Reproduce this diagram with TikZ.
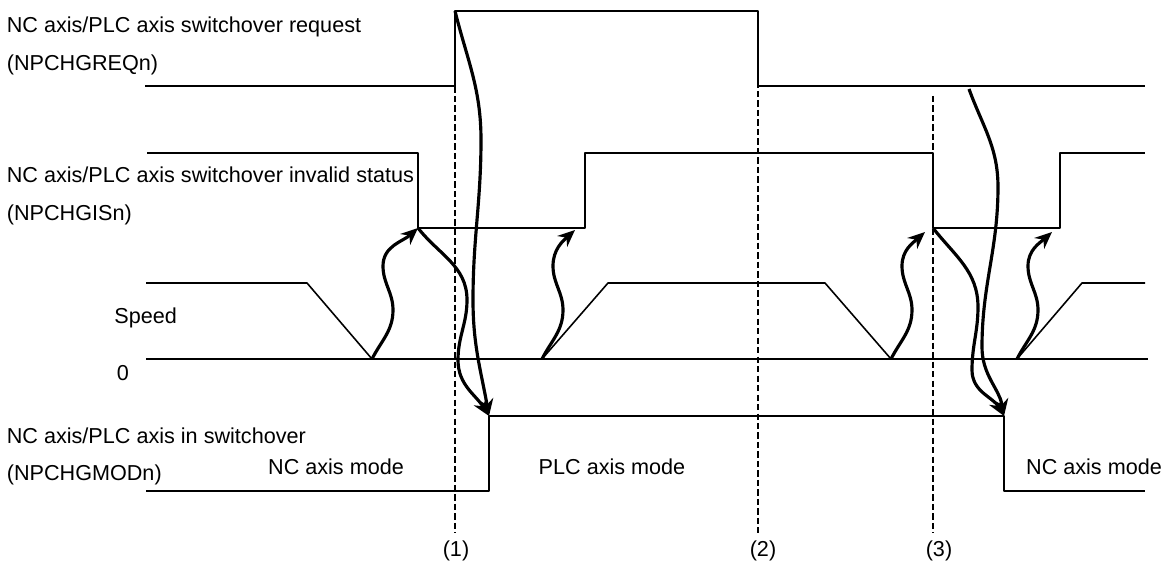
\documentclass[tikz,border=0pt]{standalone}
\usepackage{fontspec}
\setmainfont{Liberation Sans}
\usetikzlibrary{arrows.meta}
\begin{document}
\begin{tikzpicture}[x=0.02cm,y=0.02cm,line join=round,font=\fontsize{12.3}{14}\selectfont,
	sig/.style={line width=0.9pt},
	cause/.style={line width=1.8pt,-{Stealth[length=3.4mm,width=2.9mm]}},
	guide/.style={line width=1.3pt,dash pattern=on 3.6pt off 1.8pt},
	lbl/.style={anchor=base west,inner sep=0pt},
	tick/.style={anchor=base,inner sep=4.7pt}]
	\useasboundingbox (0,0) rectangle (1161,564);
	% signal names
	\node [lbl] (reqname) at (6.5,531) {NC axis/PLC axis switchover request};
	\node [lbl] (reqsig) at (6.5,493) {(NPCHGREQn)};
	\node [lbl] (gisname) at (6.5,381) {NC axis/PLC axis switchover invalid status};
	\node [lbl] (gissig) at (6.5,343) {(NPCHGISn)};
	\node [lbl] (speedname) at (114,240) {Speed};
	\node [anchor=base,inner sep=0pt] (zeroname) at (123,183) {0};
	\node [lbl] (modname) at (6.5,120) {NC axis/PLC axis in switchover};
	\node [lbl] (modsig) at (6.5,83) {(NPCHGMODn)};
	\node [anchor=base,inner sep=0pt] (ncmodeA) at (336,89) {NC axis mode};
	\node [anchor=base,inner sep=0pt] (plcmode) at (612,89) {PLC axis mode};
	\node [anchor=base,inner sep=0pt] (ncmodeB) at (1094,89) {NC axis mode};
	% waveforms
	\draw [sig] (145,478) -- (455,478) -- (455,553) coordinate (reqA) -- (758,553) -- (758,478) -- (1145,478);
	\draw [sig] (147,411) -- (418,411) -- (418,336) coordinate (gisA) -- (585,336) -- (585,411)
		-- (933,411) -- (933,336) coordinate (gisD) -- (1060,336) -- (1060,411) -- (1145,411);
	\draw [sig] (146,205) -- (1148,205);
	\draw [sig] (146,281) -- (307,281) -- (372,205) coordinate (stopA)
		(542,205) coordinate (startA) -- (608,281) -- (825,281) -- (891,205) coordinate (stopB)
		(1017,205) coordinate (startB) -- (1082,281) -- (1145,281);
	\draw [sig] (146,73) -- (489,73) -- (489,148) coordinate (modA) -- (1004,148) coordinate (modB) -- (1004,73) -- (1145,73);
	\coordinate (gisB) at (575,334);
	\coordinate (gisC) at (925,332);
	\coordinate (gisE) at (1052,332);
	\coordinate (reqB) at (969,475);
	% timing points
	\node [tick] (t1) at (456,7) {(1)};
	\node [tick] (t2) at (763,7) {(2)};
	\node [tick] (t3) at (939,7) {(3)};
	\coordinate (p1) at (455,487);
	\coordinate (p2) at (758,511);
	\coordinate (p3) at (933,468);
	\draw [guide] (p1) -- (p1 |- t1.north);
	\draw [guide] (p2) -- (p2 |- t2.north);
	\draw [guide] (p3) -- (p3 |- t3.north);
	% signal dependencies
	\foreach \s/\g in {stopA/gisA,startA/gisB,stopB/gisC,startB/gisE}
		\draw [cause] (\s) to[out=63,in=-90] ++(21,49) to[out=90,in=-90] ++(-10,44) to[out=90,in=-138] (\g);
	\draw [cause] (gisA) to[out=-52,in=90] (467,264) to[out=-90,in=90] (458,204) to[out=-90,in=122] (modA);
	\draw [cause] (reqA) to[out=-76,in=90] (481,424) to[out=-90,in=90] (473,264) to[out=-90,in=100] (modA);
	\draw [cause] (gisD) to[out=-52,in=90] (978,257) to[out=-90,in=90] (972,194) to[out=-90,in=120] (modB);
	\draw [cause] (reqB) to[out=-70,in=90] (998,377) to[out=-90,in=90] (982,217) to[out=-90,in=100] (modB);
\end{tikzpicture}
\end{document}
